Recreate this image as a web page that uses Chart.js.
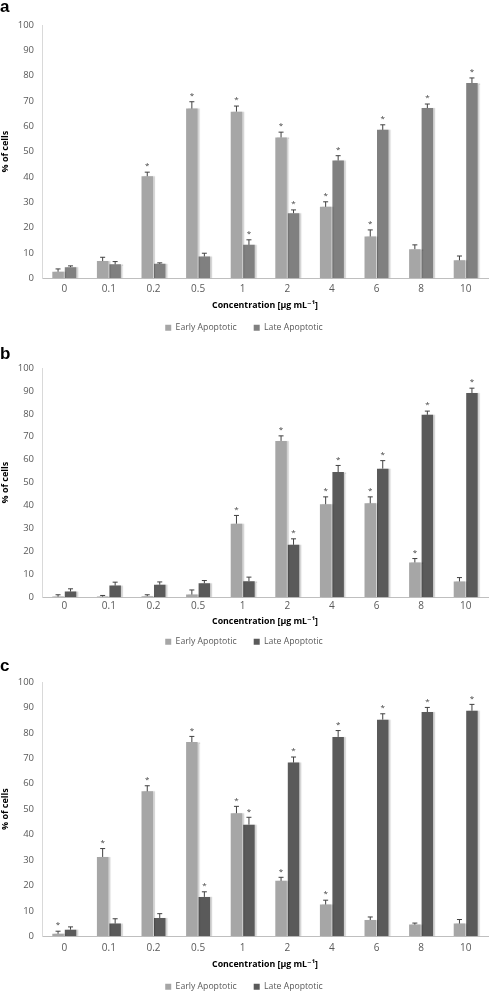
<!DOCTYPE html>
<html>
<head>
<meta charset="utf-8">
<script src="https://cdn.jsdelivr.net/npm/chart.js@4.4.1/dist/chart.umd.min.js"></script>
<style>
  body { margin: 0; background: #fff; width: 489px; height: 992px; position: relative; overflow: hidden; }
  .panel { position: absolute; left: 0; width: 489px; }
  .letter { position: absolute; left: 0; font: bold 17px "Liberation Sans", Arial, sans-serif; color: #000; line-height: 1; }
</style>
</head>
<body>
<div class="panel" style="top:0;height:342px"><canvas id="chartA"></canvas></div>
<div class="panel" style="top:340px;height:316px"><canvas id="chartB"></canvas></div>
<div class="panel" style="top:655px;height:346px"><canvas id="chartC"></canvas></div>
<div class="letter" style="top:-2px">a</div>
<div class="letter" style="top:345px">b</div>
<div class="letter" style="top:657px">c</div>
<script>
const concentrations = ['0', '0.1', '0.2', '0.5', '1', '2', '4', '6', '8', '10'];
const yTicks = [0, 10, 20, 30, 40, 50, 60, 70, 80, 90, 100];

// panel a
const earlyA = [2.6, 6.8, 40.3, 67.0, 65.8, 55.6, 28.2, 16.5, 11.5, 7.1];
const earlyAErr = [1.1, 1.5, 1.6, 2.7, 2.2, 2.1, 2.0, 2.6, 1.7, 1.7];
const lateA = [4.4, 5.5, 5.7, 8.6, 13.2, 25.7, 46.5, 58.6, 67.2, 77.1];
const lateAErr = [0.5, 1.1, 0.4, 1.3, 2.0, 1.3, 1.9, 2.0, 1.6, 2.0];
const earlyASig = [0, 0, 1, 1, 1, 1, 1, 1, 0, 0];
const lateASig = [0, 0, 0, 0, 1, 1, 1, 1, 1, 1];

// panel b
const earlyB = [0.3, 0.3, 0.5, 1.2, 32.1, 68.2, 40.6, 41.0, 15.2, 6.9];
const earlyBErr = [0.8, 0.5, 0.6, 2.0, 3.6, 2.2, 3.2, 2.8, 1.7, 1.7];
const lateB = [2.5, 5.1, 5.5, 6.1, 7.0, 22.9, 54.6, 56.1, 79.6, 89.1];
const lateBErr = [1.2, 1.5, 1.2, 1.2, 1.8, 2.6, 2.9, 3.5, 1.6, 2.1];
const earlyBSig = [0, 0, 0, 0, 1, 1, 1, 1, 1, 0];
const lateBSig = [0, 0, 0, 0, 0, 1, 1, 1, 1, 1];

// panel c
const earlyC = [1.0, 31.2, 57.0, 76.4, 48.4, 21.8, 12.5, 6.4, 4.6, 5.0];
const earlyCErr = [1.0, 3.3, 2.2, 2.2, 2.7, 1.4, 1.7, 1.2, 0.6, 1.6];
const lateC = [2.6, 5.0, 7.2, 15.5, 43.9, 68.3, 78.4, 85.2, 88.2, 88.7];
const lateCErr = [1.1, 1.9, 1.7, 2.0, 2.9, 2.2, 2.5, 2.3, 1.8, 2.5];
const earlyCSig = [1, 1, 1, 1, 1, 1, 1, 0, 0, 0];
const lateCSig = [0, 0, 0, 1, 1, 1, 1, 1, 1, 1];

const FONT = '"Open Sans", "DejaVu Sans", sans-serif';

// soft shadow on the right of bars
const barShadow = {
  id: 'barShadow',
  beforeDatasetsDraw(chart) {
    const ctx = chart.ctx;
    ctx.save();
    ctx.shadowColor = 'rgba(0,0,0,0.18)';
    ctx.shadowOffsetX = 2;
    ctx.shadowOffsetY = 0;
    ctx.shadowBlur = 1;
  },
  afterDatasetsDraw(chart) {
    chart.ctx.restore();
  }
};

// error whiskers (upper only) and asterisks
const errorBars = {
  id: 'errorBars',
  afterDatasetsDraw(chart) {
    const ctx = chart.ctx;
    const y = chart.scales.y;
    chart.data.datasets.forEach((ds, i) => {
      const meta = chart.getDatasetMeta(i);
      meta.data.forEach((bar, j) => {
        const top = y.getPixelForValue(ds.data[j] + ds.errors[j]);
        ctx.save();
        ctx.strokeStyle = '#404040';
        ctx.lineWidth = 1;
        ctx.beginPath();
        ctx.moveTo(bar.x, bar.y);
        ctx.lineTo(bar.x, top);
        ctx.moveTo(bar.x - 2.5, top);
        ctx.lineTo(bar.x + 2.5, top);
        ctx.stroke();
        if (ds.sig[j]) {
          ctx.fillStyle = '#404040';
          ctx.font = '8px ' + FONT;
          ctx.textAlign = 'center';
          ctx.textBaseline = 'middle';
          ctx.fillText('*', bar.x, top - 6);
        }
        ctx.restore();
      });
    });
  }
};

function makeChart(id, early, earlyErr, earlySig, late, lateErr, lateSig, lateColor, padTop, xHeight, tickPad, titlePad) {
  return new Chart(document.getElementById(id), {
    type: 'bar',
    data: {
      labels: concentrations,
      datasets: [
        { label: 'Early Apoptotic', data: early, errors: earlyErr, sig: earlySig,
          backgroundColor: '#a6a6a6', categoryPercentage: 0.56, barPercentage: 0.92 },
        { label: 'Late Apoptotic', data: late, errors: lateErr, sig: lateSig,
          backgroundColor: lateColor, categoryPercentage: 0.56, barPercentage: 0.92 }
      ]
    },
    options: {
      responsive: true,
      maintainAspectRatio: false,
      animation: false,
      layout: { padding: { top: padTop, right: 1, left: 0, bottom: 0 } },
      plugins: {
        legend: {
          position: 'bottom',
          labels: {
            boxWidth: 6, boxHeight: 6, padding: 17,
            color: '#595959', font: { family: FONT, size: 8.7 }
          }
        },
        tooltip: { enabled: false }
      },
      scales: {
        x: {
          grid: { display: false, drawTicks: false },
          border: { color: '#bfbfbf', width: 1 },
          ticks: { color: '#595959', font: { family: FONT, size: 10 }, padding: tickPad },
          title: {
            display: true, text: 'Concentration [µg mL⁻¹]', color: '#000',
            font: { family: FONT, size: 8.8, weight: 'bold' }, padding: { top: 0, bottom: titlePad }
          },
          afterFit(scale) { scale.height = xHeight; }
        },
        y: {
          min: 0, max: 100,
          afterBuildTicks(scale) { scale.ticks = yTicks.map(v => ({ value: v })); },
          grid: { display: false, drawTicks: false },
          border: { color: '#d9d9d9', width: 1 },
          ticks: { color: '#595959', font: { family: FONT, size: 9.5 }, padding: 8 },
          title: {
            display: true, text: '% of cells', color: '#000',
            font: { family: FONT, size: 9, weight: 'bold' }, padding: 0
          },
          afterFit(scale) { scale.width = 42; }
        }
      }
    },
    plugins: [barShadow, errorBars]
  });
}

makeChart('chartA', earlyA, earlyAErr, earlyASig, lateA, lateAErr, lateASig, '#808080', 25, 28, 5, -4.7);
makeChart('chartB', earlyB, earlyBErr, earlyBSig, lateB, lateBErr, lateBSig, '#5a5a5a', 28, 23, 3, -6.7);
makeChart('chartC', earlyC, earlyCErr, earlyCSig, lateC, lateCErr, lateCSig, '#5a5a5a', 27, 29, 6, -4.7);
</script>
</body>
</html>
